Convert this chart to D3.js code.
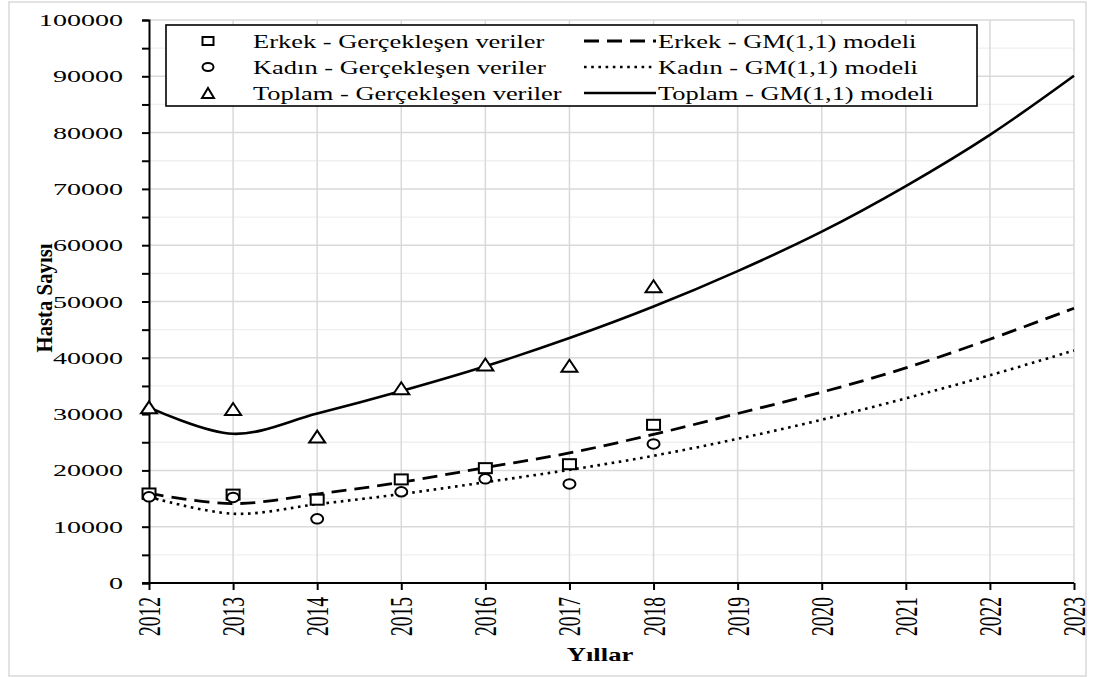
<!DOCTYPE html>
<html>
<head>
<meta charset="utf-8">
<script src="https://cdn.jsdelivr.net/npm/d3@7"></script>
<style>
  html, body { margin: 0; padding: 0; background: #fff; }
  svg { display: block; }
  text { font-family: "Liberation Serif", "Times New Roman", serif; fill: #000; }
</style>
</head>
<body>
<svg id="chart" width="1096" height="677"></svg>
<script>
// Yearly patient counts (observed) and GM(1,1) model estimates
const years = [2012, 2013, 2014, 2015, 2016, 2017, 2018, 2019, 2020, 2021, 2022, 2023];
const observedYears = [2012, 2013, 2014, 2015, 2016, 2017, 2018];

const erkekObserved  = [15900, 15700, 14800, 18400, 20400, 21100, 28100];
const kadinObserved  = [15300, 15200, 11400, 16200, 18500, 17600, 24700];
const toplamObserved = [31200, 30900, 26000, 34600, 38800, 38600, 52700];

const erkekModel  = [15900, 14100, 15800, 17900, 20500, 23100, 26400, 30100, 33900, 38200, 43300, 48800];
const kadinModel  = [15300, 12300, 14000, 15800, 17900, 20100, 22600, 25600, 29000, 32800, 36900, 41300];
const toplamModel = [31200, 26500, 30100, 34100, 38500, 43500, 49100, 55400, 62400, 70500, 79600, 90100];

const yTicks = [0, 10000, 20000, 30000, 40000, 50000, 60000, 70000, 80000, 90000, 100000];
const yMinorTicks = [5000, 15000, 25000, 35000, 45000, 55000, 65000, 75000, 85000, 95000];

const legendItems = [
  ["Erkek - Gerçekleşen veriler", "Erkek - GM(1,1) modeli"],
  ["Kadın - Gerçekleşen veriler", "Kadın - GM(1,1) modeli"],
  ["Toplam - Gerçekleşen veriler", "Toplam - GM(1,1) modeli"]
];

const svg = d3.select("#chart");
const SX = 1.65; // horizontal widening of the tick glyphs
const LSX = 1.43; // horizontal widening of the legend glyphs

const x = d3.scaleLinear().domain([2012, 2023]).range([149, 1074]);
const y = d3.scaleLinear().domain([0, 100000]).range([583, 20]);

// outer frame
svg.append("rect").attr("x", 9).attr("y", 2).attr("width", 1077).attr("height", 674)
  .attr("fill", "#fff").attr("stroke", "#d9d9d9").attr("stroke-width", 1.5);

// gridlines
const grid = svg.append("g");
grid.selectAll(".minor").data(yMinorTicks).join("line")
  .attr("x1", x(2012)).attr("x2", x(2023))
  .attr("y1", d => y(d)).attr("y2", d => y(d))
  .attr("stroke", "#efefef").attr("stroke-width", 1.3);
grid.selectAll(".major").data(yTicks.slice(1)).join("line")
  .attr("x1", x(2012)).attr("x2", x(2023))
  .attr("y1", d => y(d)).attr("y2", d => y(d))
  .attr("stroke", "#d9d9d9").attr("stroke-width", 1.5);
grid.selectAll(".vert").data(years.slice(1)).join("line")
  .attr("x1", d => x(d)).attr("x2", d => x(d))
  .attr("y1", y(0)).attr("y2", y(100000))
  .attr("stroke", "#d9d9d9").attr("stroke-width", 1.5);

// axes
const yAxis = d3.axisLeft(y).tickValues(yTicks.concat(yMinorTicks)).tickSize(7).tickFormat("");
const yg = svg.append("g").attr("transform", `translate(${x(2012)},0)`).call(yAxis);
const xAxis = d3.axisBottom(x).tickValues(years).tickSize(7).tickFormat("");
const xg = svg.append("g").attr("transform", `translate(0,${y(0)})`).call(xAxis);
[yg, xg].forEach(g => {
  g.select(".domain").attr("stroke", "#000").attr("stroke-width", 2);
  g.selectAll(".tick line").attr("stroke", "#000").attr("stroke-width", 2);
});
xg.select(".domain").attr("d", `M${x(2012) - 7},0H${x(2023)}`);

// y tick labels
svg.append("g").selectAll("text").data(yTicks).join("text")
  .attr("transform", d => `translate(123,${y(d) + 6}) scale(${SX},1)`)
  .attr("text-anchor", "end").attr("font-size", 17)
  .text(d => d);

// x tick labels (rotated)
svg.append("g").selectAll("text").data(years).join("text")
  .attr("transform", d => `translate(${x(d) + 11},597) scale(${SX},1) rotate(-90)`)
  .attr("text-anchor", "end").attr("font-size", 19.5)
  .text(d => d);

// axis titles
svg.append("text")
  .attr("transform", `translate(600,661) scale(1.4,1)`)
  .attr("text-anchor", "middle").attr("font-size", 19).attr("font-weight", "bold")
  .text("Yıllar");
svg.append("text")
  .attr("transform", "translate(52,298) scale(1.1,1) rotate(-90)")
  .attr("text-anchor", "middle").attr("font-size", 21).attr("font-weight", "bold")
  .attr("textLength", 109).attr("lengthAdjust", "spacingAndGlyphs")
  .text("Hasta Sayısı");

// model curves
const line = d3.line().x((d, i) => x(years[i])).y(d => y(d)).curve(d3.curveCatmullRom.alpha(0.5));
const styles = {
  erkek: { dash: "15,8", width: 2.8 },
  kadin: { dash: "2.6,4.6", width: 2.6 },
  toplam: { dash: null, width: 2.6 }
};
const curves = svg.append("g").attr("fill", "none").attr("stroke", "#000");
[[erkekModel, styles.erkek], [kadinModel, styles.kadin], [toplamModel, styles.toplam]].forEach(([vals, st]) => {
  curves.append("path").datum(vals).attr("d", line)
    .attr("stroke-width", st.width)
    .attr("stroke-dasharray", st.dash);
});

// marker shapes
function marker(g, kind, cx, cy, w, h) {
  const s = g.append(kind === "circle" ? "ellipse" : kind === "square" ? "rect" : "path")
    .attr("fill", "#fff").attr("stroke", "#000").attr("stroke-width", 2);
  if (kind === "circle") s.attr("cx", cx).attr("cy", cy).attr("rx", w / 2).attr("ry", h / 2);
  else if (kind === "square") s.attr("x", cx - w / 2).attr("y", cy - h / 2).attr("width", w).attr("height", h);
  else s.attr("d", `M${cx},${cy - h / 2}L${cx + w / 2},${cy + h / 2}L${cx - w / 2},${cy + h / 2}Z`);
  return s;
}

const pts = svg.append("g");
observedYears.forEach((yr, i) => {
  marker(pts, "square", x(yr), y(erkekObserved[i]), 13, 10);
  marker(pts, "circle", x(yr), y(kadinObserved[i]), 12, 9.5);
  marker(pts, "triangle", x(yr), y(toplamObserved[i]), 16, 12);
});

// legend
const lg = svg.append("g");
lg.append("rect").attr("x", 166).attr("y", 25).attr("width", 811).attr("height", 81)
  .attr("fill", "#fff").attr("stroke", "#000").attr("stroke-width", 1.6);
const rowY = [41, 67, 93];
const kinds = ["square", "circle", "triangle"];
const lineStyles = [styles.erkek, styles.kadin, styles.toplam];
legendItems.forEach((pair, i) => {
  marker(lg, kinds[i], 208, rowY[i], kinds[i] === "triangle" ? 12 : 11, kinds[i] === "triangle" ? 10 : 8);
  lg.append("text").attr("transform", `translate(253,${rowY[i] + 6.5}) scale(${LSX},1)`)
    .attr("font-size", 18.5).text(pair[0]);
  lg.append("line").attr("x1", 584).attr("x2", 656).attr("y1", rowY[i]).attr("y2", rowY[i])
    .attr("stroke", "#000").attr("stroke-width", lineStyles[i].width)
    .attr("stroke-dasharray", lineStyles[i].dash);
  lg.append("text").attr("transform", `translate(658,${rowY[i] + 6.5}) scale(${LSX},1)`)
    .attr("font-size", 18.5).text(pair[1]);
});
</script>
</body>
</html>
